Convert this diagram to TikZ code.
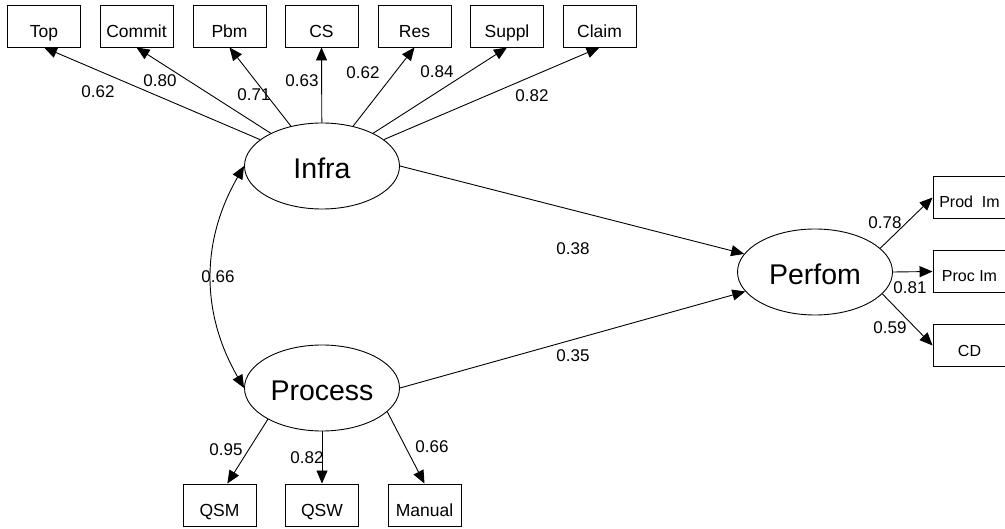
\documentclass[tikz,border=0pt]{standalone}
\usepackage{fontspec}
\setmainfont{Liberation Sans}
\usetikzlibrary{arrows.meta,shapes.geometric}

\begin{document}
\begin{tikzpicture}[
    x=1pt, y=-1pt,
    obs/.style={
        draw,
        rectangle,
        minimum width=73pt,
        minimum height=42pt,
        inner sep=0pt,
        text height=23pt,
        text depth=0pt,
        font=\fontsize{17.5}{19}\selectfont
    },
    obsR/.style={obs, font=\fontsize{16}{18}\selectfont, text height=20pt},
    latent/.style={
        draw,
        ellipse,
        minimum width=155pt,
        minimum height=86pt,
        inner sep=0pt,
        text height=26pt,
        text depth=0pt,
        font=\fontsize{28.5}{30}\selectfont
    },
    coef/.style={font=\fontsize{17}{19}\selectfont, inner sep=0pt},
    loading/.style={-{Triangle[length=13pt,width=11pt]}},
    covar/.style={{Triangle[length=13pt,width=11pt]}-{Triangle[length=13pt,width=11pt]}},
    every path/.style={line width=0.9pt}
]
\useasboundingbox (0,0) rectangle (1005,529);

% ---- row of top indicators (y centre 26) ----
\def\yTop{26}
\node[obs] (Top)    at (44,\yTop)    {Top};
\node[obs] (Commit) at (136.5,\yTop) {Commit};
\node[obs] (Pbm)    at (229.5,\yTop) {Pbm};
\node[obs] (CS)     at (321.5,\yTop) {CS};
\node[obs] (Res)    at (414.5,\yTop) {Res};
\node[obs] (Suppl)  at (507,\yTop)   {Suppl};
\node[obs] (Claim)  at (599.5,\yTop) {Claim};

% ---- latent variables ----
\node[latent] (Infra)   at (322,166) {Infra};
\node[latent] (Process) at (322,388) {Process};
\node[latent] (Perfom)  at (815,272) {Perfom};

% ---- right indicators ----
\node[obsR] (ProdIm) at (969.5,197.5) {Prod\ \ Im};
\node[obsR] (ProcIm) at (969.5,271.5) {Proc Im};
\node[obsR, text height=23pt] (CD) at (969.5,345.5) {CD};

% ---- bottom indicators ----
\def\yBot{505}
\node[obs] (QSM)    at (219.5,\yBot) {QSM};
\node[obs] (QSW)    at (322,\yBot)   {QSW};
\node[obs] (Manual) at (424.5,\yBot) {Manual};

% ---- Infra loadings ----
\draw[loading] (Infra) -- (Top.south);
\draw[loading] (Infra) -- (Commit.south);
\draw[loading] (Infra) -- (Pbm.south);
\draw[loading] (Infra) -- (CS.south);
\draw[loading] (Infra) -- (Res.south);
\draw[loading] (Infra) -- (Suppl.south);
\draw[loading] (Infra) -- (Claim.south);

\node[coef] (cTop)    at (98,92)  {0.62};
\node[coef] (cCommit) at (160,81) {0.80};
\node[coef] (cPbm)    at (254,95) {0.71};
\node[coef] (cCS)     at (302,81) {0.63};
\node[coef] (cRes)    at (363,73) {0.62};
\node[coef] (cSuppl)  at (437,72) {0.84};
\node[coef] (cClaim)  at (532,96) {0.82};

% ---- structural paths ----
\draw[loading] (Infra.east) -- (Perfom);
\draw[loading] (Process.east) -- (Perfom);
\draw[covar] (Infra.west) to[bend right=30] (Process.west);

\node[coef] (cInfra)   at (573,249) {0.38};
\node[coef] (cProcess) at (573,356) {0.35};
\node[coef] (cCov)     at (218,277) {0.66};

% ---- Perfom loadings ----
\draw[loading] (Perfom.20) -- (ProdIm.west);
\draw[loading] (Perfom.east) -- (ProcIm.west);
\draw[loading] (Perfom.-18) -- (CD.west);

\node[coef] (cProdIm) at (885,223) {0.78};
\node[coef] (cProcIm) at (910,288) {0.81};
\node[coef] (cCD)     at (890,328) {0.59};

% ---- Process loadings ----
\draw[loading] (Process.210) -- (QSM.70);
\draw[loading] (Process.south) -- (QSW.north);
\draw[loading] (Process.-20) -- (Manual.north);

\node[coef] (cQSM)    at (226,450) {0.95};
\node[coef] (cQSW)    at (307,458) {0.82};
\node[coef] (cManual) at (432,447) {0.66};

\end{tikzpicture}
\end{document}
